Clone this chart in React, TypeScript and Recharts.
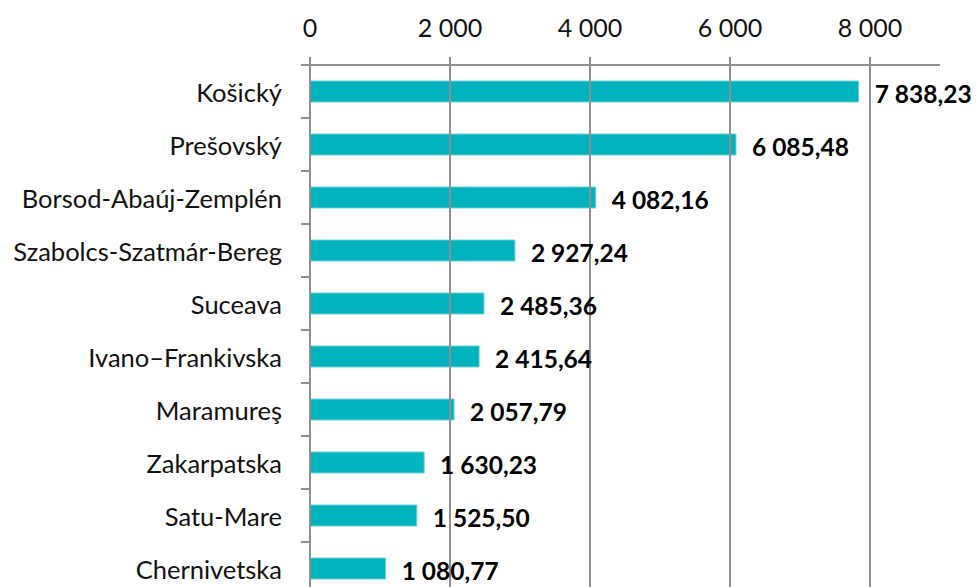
import { BarChart, Bar, XAxis, YAxis, ReferenceLine, LabelList } from "recharts";

const regions = [
  "Košický",
  "Prešovský",
  "Borsod-Abaúj-Zemplén",
  "Szabolcs-Szatmár-Bereg",
  "Suceava",
  "Ivano–Frankivska",
  "Maramureş",
  "Zakarpatska",
  "Satu-Mare",
  "Chernivetska",
];
const values = [7838.23, 6085.48, 4082.16, 2927.24, 2485.36, 2415.64, 2057.79, 1630.23, 1525.5, 1080.77];
const xTicks = [0, 2000, 4000, 6000, 8000];

const data = regions.map((name, i) => ({ name, value: values[i] }));

const WIDTH = 976;
const HEIGHT = 600;
const MARGIN = { top: 25, right: 36, bottom: 5, left: 0 };
const X_AXIS_HEIGHT = 40;
const BAND = (HEIGHT - MARGIN.top - X_AXIS_HEIGHT - MARGIN.bottom) / regions.length;
const GRID = "#8f8f8f";
const FONT = "Lato, 'Open Sans', sans-serif";

// 7838.23 -> "7 838,23"
const fmt = (v: number, decimals: number) => {
  const [int, dec] = v.toFixed(decimals).split(".");
  const grouped = int.replace(/\B(?=(\d{3})+(?!\d))/g, " ");
  return dec ? `${grouped},${dec}` : grouped;
};

const CategoryTick = (props: any) => {
  const { x, y, payload } = props;
  return (
    <g>
      <text x={x - 28} y={y} textAnchor="end" dominantBaseline="central" fontSize={25.5} fill="#111" fontFamily={FONT}>
        {payload.value}
      </text>
      <line x1={x - 9} x2={x} y1={y - BAND / 2} y2={y - BAND / 2} stroke={GRID} strokeWidth={2} />
    </g>
  );
};

const ValueLabel = (props: any) => {
  const { x, y, width, height, value } = props;
  return (
    <text
      x={x + width + 16}
      y={y + height / 2 + 2}
      dominantBaseline="central"
      fontSize={24.5}
      fontWeight={700}
      fill="#000"
      fontFamily={FONT}
    >
      {fmt(Number(value), 2)}
    </text>
  );
};

export default function App() {
  return (
    <div style={{ position: "absolute", left: 0, top: 0, width: WIDTH, height: 587, overflow: "hidden", background: "#fff" }}>
      <BarChart width={WIDTH} height={HEIGHT} data={data} layout="vertical" margin={MARGIN}>
        <XAxis
          type="number"
          orientation="top"
          domain={[0, 9000]}
          ticks={xTicks}
          height={X_AXIS_HEIGHT}
          tickFormatter={(v) => fmt(v, 0)}
          axisLine={{ stroke: GRID, strokeWidth: 2 }}
          tickLine={{ stroke: GRID, strokeWidth: 2 }}
          tickSize={8}
          tickMargin={20}
          tick={{ fontSize: 25, fill: "#111", fontFamily: FONT }}
        />
        <YAxis
          type="category"
          dataKey="name"
          width={310}
          axisLine={{ stroke: GRID, strokeWidth: 2 }}
          tickLine={false}
          tickSize={0}
          tickMargin={0}
          tick={<CategoryTick />}
          interval={0}
        />
        {xTicks.slice(1).map((t) => (
          <ReferenceLine key={t} x={t} stroke={GRID} strokeWidth={2} />
        ))}
        <Bar dataKey="value" fill="#00B3BD" stroke="#6fd0d6" strokeWidth={1} barSize={21} isAnimationActive={false}>
          <LabelList dataKey="value" content={<ValueLabel />} />
        </Bar>
      </BarChart>
    </div>
  );
}
